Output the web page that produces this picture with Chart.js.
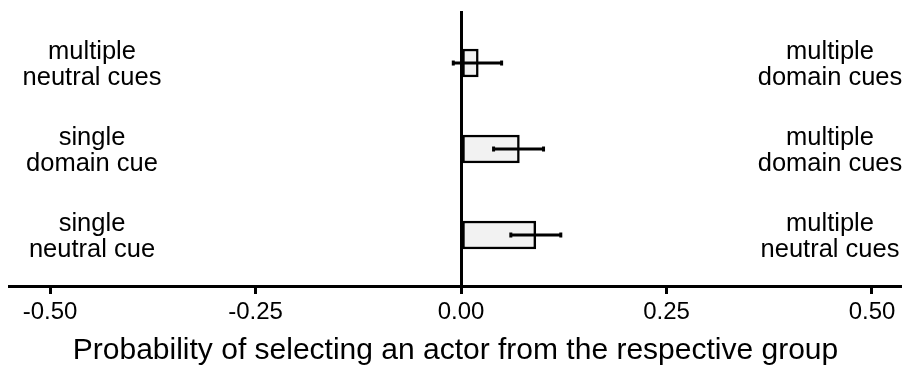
<!DOCTYPE html>
<html>
<head>
<meta charset="utf-8">
<script src="https://cdn.jsdelivr.net/npm/chart.js@4/dist/chart.umd.min.js"></script>
<style>
  html, body { margin: 0; padding: 0; background: #fff; }
  #wrap { width: 902px; height: 365px; position: relative; }
</style>
</head>
<body>
<div id="wrap"><canvas id="chart"></canvas></div>
<script>
// rows from top to bottom
const positions = [1, 2, 3];
const means = [0.021, 0.071, 0.091];
const lower = [-0.010, 0.039, 0.060];
const upper = [0.050, 0.101, 0.122];
const leftLabels = [['multiple', 'neutral cues'], ['single', 'domain cue'], ['single', 'neutral cue']];
const rightLabels = [['multiple', 'domain cues'], ['multiple', 'domain cues'], ['multiple', 'neutral cues']];
const tickValues = [-0.5, -0.25, 0, 0.25, 0.5];
const axisTitle = 'Probability of selecting an actor from the respective group';

const FONT = "'Liberation Sans', Arial, sans-serif";

const errorBars = {
    id: 'errorBars',
    afterDatasetsDraw(chart) {
        const ctx = chart.ctx;
        const xs = chart.scales.x;
        const ys = chart.scales.y;
        ctx.save();
        ctx.strokeStyle = '#000';
        ctx.fillStyle = '#000';
        ctx.lineWidth = 3;
        positions.forEach((p, i) => {
            const y = ys.getPixelForValue(p);
            const x1 = xs.getPixelForValue(lower[i]);
            const x2 = xs.getPixelForValue(upper[i]);
            ctx.beginPath();
            ctx.moveTo(x1, y);
            ctx.lineTo(x2, y);
            ctx.stroke();
            ctx.fillRect(x1 - 1, y - 2.5, 3, 5);
            ctx.fillRect(x2 - 2, y - 2.5, 3, 5);
        });
        ctx.restore();
    }
};

const sideLabels = {
    id: 'sideLabels',
    afterDraw(chart) {
        const ctx = chart.ctx;
        const ys = chart.scales.y;
        ctx.save();
        ctx.fillStyle = '#000';
        ctx.font = '25.5px ' + FONT;
        ctx.textAlign = 'center';
        ctx.textBaseline = 'middle';
        positions.forEach((p, i) => {
            const y = ys.getPixelForValue(p) + 2;
            leftLabels[i].forEach((line, j) => ctx.fillText(line, 92, y + (j - 0.5) * 26));
            rightLabels[i].forEach((line, j) => ctx.fillText(line, 830, y + (j - 0.5) * 26));
        });
        ctx.restore();
    }
};

new Chart(document.getElementById('chart'), {
    type: 'bar',
    data: {
        datasets: [{
            data: positions.map((p, i) => ({ x: means[i], y: p })),
            backgroundColor: '#f2f2f2',
            borderColor: '#000',
            borderWidth: 2.5,
            borderSkipped: false,
            barThickness: 28
        }]
    },
    options: {
        indexAxis: 'y',
        responsive: true,
        maintainAspectRatio: false,
        animation: false,
        layout: { padding: { left: 9, right: 0, top: 11, bottom: 0 } },
        plugins: {
            legend: { display: false },
            tooltip: { enabled: false }
        },
        scales: {
            x: {
                type: 'linear',
                min: -0.5499,
                max: 0.5365,
                afterBuildTicks: (scale) => { scale.ticks = tickValues.map(v => ({ value: v })); },
                afterFit: (scale) => { scale.height = 79; },
                border: { display: true, color: '#000', width: 3 },
                grid: {
                    drawOnChartArea: true,
                    drawTicks: true,
                    tickLength: 8,
                    tickColor: '#000',
                    tickWidth: 3,
                    color: (c) => (c.tick && c.tick.value === 0 ? '#000' : 'rgba(0,0,0,0)'),
                    lineWidth: 3
                },
                ticks: {
                    color: '#000',
                    font: { family: FONT, size: 24 },
                    padding: 4,
                    maxRotation: 0,
                    autoSkip: false,
                    callback: (v) => Number(v).toFixed(2)
                },
                title: {
                    display: true,
                    text: axisTitle,
                    color: '#000',
                    font: { family: FONT, size: 30 },
                    padding: { top: 0, bottom: -4 }
                }
            },
            y: {
                type: 'linear',
                reverse: true,
                offset: false,
                min: 0.395,
                max: 3.593,
                display: false
            }
        }
    },
    plugins: [errorBars, sideLabels]
});
</script>
</body>
</html>
